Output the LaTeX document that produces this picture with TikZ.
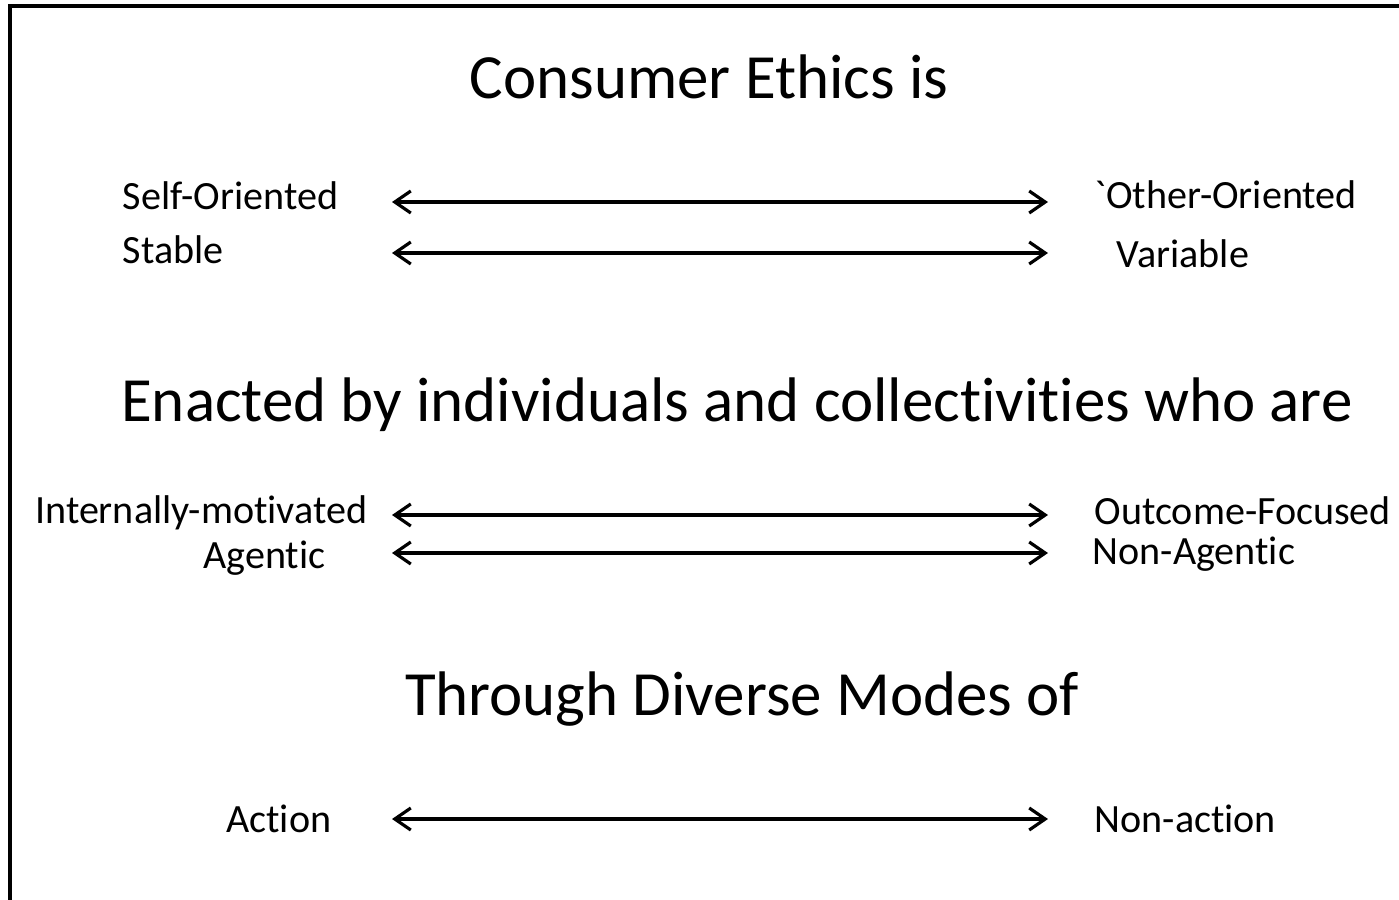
\documentclass[tikz,border=0pt]{standalone}
\usepackage{fontspec}
\setmainfont{Carlito}[Ligatures={TeXOff,NoCommon}]
\usetikzlibrary{arrows.meta}

\begin{document}
\begin{tikzpicture}[x=0.01cm,y=-0.01cm,
    >={Straight Barb[length=1.6mm,width=2.2mm]},
    heading/.style={inner sep=0pt,anchor=base,font=\fontsize{17.9pt}{21pt}\selectfont},
    lbl/.style={inner sep=0pt,font=\fontsize{11.4pt}{13pt}\selectfont},
    span/.style={<->,line width=0.9pt}]
                \useasboundingbox (0,0) rectangle (1399,899);
                \draw[line width=0.9pt] (10,920)--(10,6)--(1420,6);

                \node[heading] (ethics) at(709,98){Consumer Ethics is};
                \node[lbl,anchor=base west] (self) at(122,209){Self-Oriented};
                \node[lbl,anchor=base west] (other) at(1094,208){`Other-Oriented};
                \node[lbl,anchor=base west] (stable) at(122,263){Stable};
                \node[lbl,anchor=base west] (variable) at(1116,267){Variable};

                \node[heading] (enacted) at(737,421){Enacted by individuals and collectivities who are};
                \node[lbl,anchor=base east] (internal) at(368,523){Internally-motivated};
                \node[lbl,anchor=base west] (outcome) at(1094,524){Outcome-Focused};
                \node[lbl,anchor=base east] (agentic) at(326,568){Agentic};
                \node[lbl,anchor=base west] (nonagentic) at(1092,564){Non-Agentic};

                \node[heading] (modes) at(742,715){Through Diverse Modes of};
                \node[lbl,anchor=base east] (action) at(332,832){Action};
                \node[lbl,anchor=base west] (nonaction) at(1094,832){Non-action};

                % arrow ends
                \coordinate (selfL) at(392,202);  \coordinate (selfR) at(1048,202);
                \coordinate (stabL) at(392,253);  \coordinate (stabR) at(1048,253);
                \coordinate (intL) at(392,515);   \coordinate (intR) at(1048,515);
                \coordinate (agL) at(392,553);    \coordinate (agR) at(1048,553);
                \coordinate (actL) at(392,819);   \coordinate (actR) at(1048,819);

                \draw[span] (selfL)--(selfR);
                \draw[span] (stabL)--(stabR);
                \draw[span] (intL)--(intR);
                \draw[span] (agL)--(agR);
                \draw[span] (actL)--(actR);
            \end{tikzpicture}
\end{document}
